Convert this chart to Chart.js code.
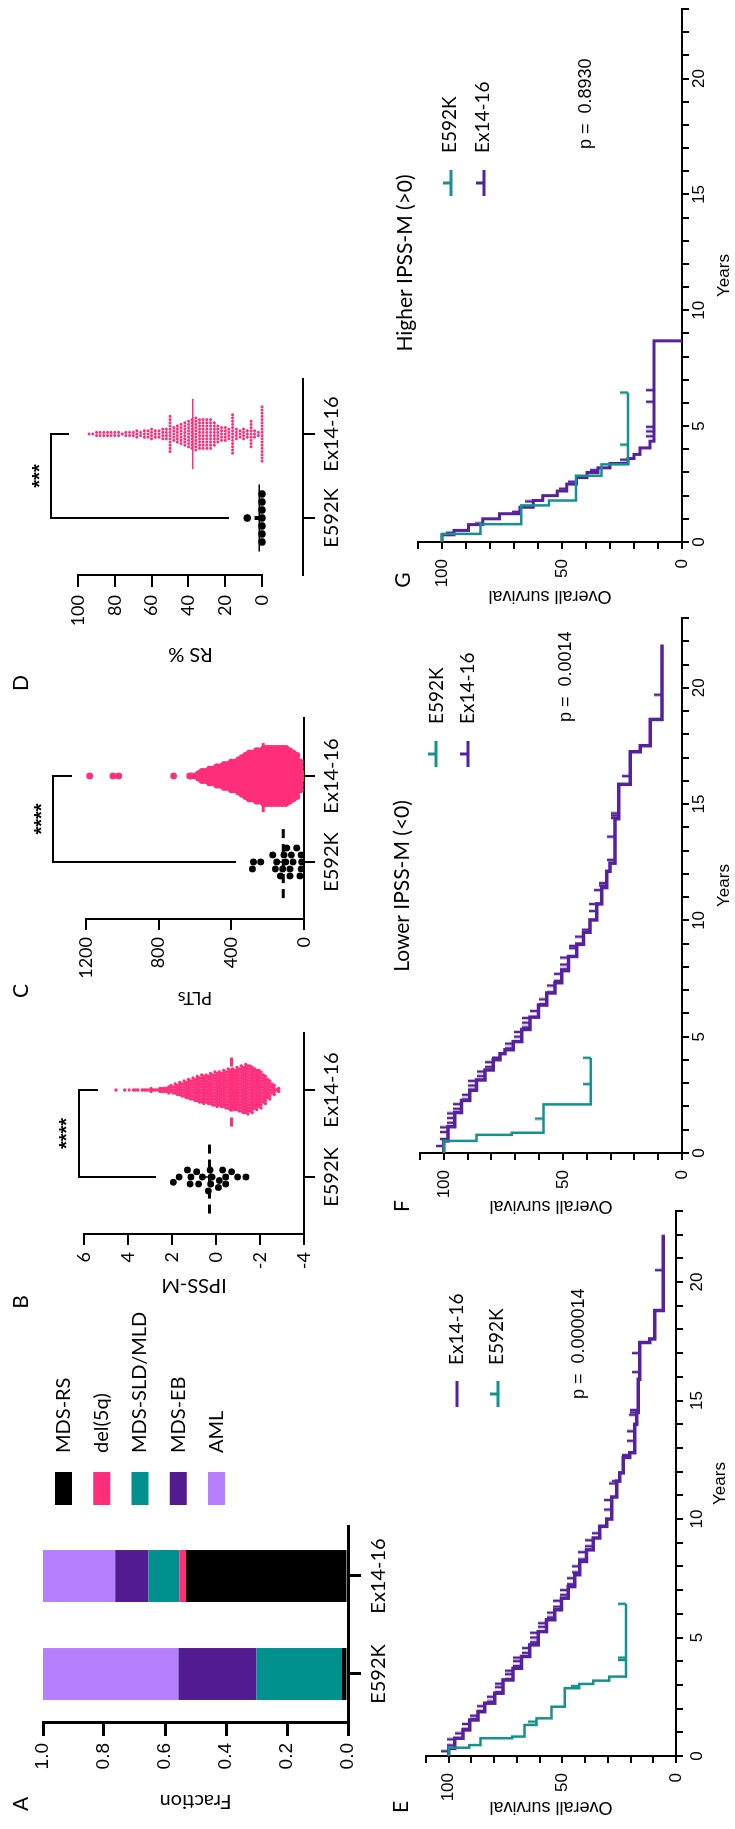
<!DOCTYPE html>
<html>
<head>
<meta charset="utf-8">
<title>E592K vs Ex14-16</title>
<script src="https://cdn.jsdelivr.net/npm/chart.js@4.4.1/dist/chart.umd.min.js"></script>
<style>
  html, body { margin: 0; padding: 0; background: #fff; overflow: hidden; width: 735px; height: 1829px; }
  /* the figure is laid out landscape and turned a quarter left */
  #fig { position: absolute; left: 0; top: 0; width: 1829px; height: 735px; background: #fff;
         transform-origin: 0 0; transform: translate(0, 1829px) rotate(-90deg); }
  #fig canvas { position: absolute; }
</style>
</head>
<body>
<div id="fig">
  <canvas id="panelA" width="560" height="410" style="left:0;top:0"></canvas>
  <canvas id="panelB" width="300" height="400" style="left:520px;top:0"></canvas>
  <canvas id="panelC" width="310" height="400" style="left:820px;top:0"></canvas>
  <canvas id="panelD" width="350" height="400" style="left:1130px;top:0"></canvas>
  <canvas id="panelE" width="640" height="355" style="left:0;top:380px"></canvas>
  <canvas id="panelF" width="630" height="355" style="left:600px;top:380px"></canvas>
  <canvas id="panelG" width="619" height="355" style="left:1210px;top:380px"></canvas>
</div>
<script>
// ---------- data ----------
const groups = ['E592K', 'Ex14-16'];

// A: subtype fractions, bottom of bar first
const subtypes = ['MDS-RS', 'del(5q)', 'MDS-SLD/MLD', 'MDS-EB', 'AML'];
const fracE592K = [0.02, 0.0, 0.28, 0.256, 0.444];
const fracEx1416 = [0.531, 0.022, 0.101, 0.109, 0.237];
const fractionTicks = [0, 0.2, 0.4, 0.6, 0.8, 1.0];

// B: IPSS-M score
const ipssE592K = [1.94, 1.68, 1.30, 1.18, 1.14, 0.88, 0.79, 0.62, 0.35, 0.27, 0.24, 0.18, -0.11, -0.15, -0.30, -0.44, -0.44, -0.71, -0.98, -1.36];
const ipssBins = [-2.8, -2.6, -2.4, -2.2, -2.0, -1.8, -1.6, -1.4, -1.2, -1.0, -0.8, -0.6, -0.4, -0.2, 0, 0.2, 0.4, 0.6, 0.8, 1.0, 1.2, 1.4, 1.6, 1.8, 2.0, 2.2, 2.4, 2.6, 2.8, 3.0, 3.2, 3.4, 3.6, 3.8, 4.0, 4.2, 4.4, 4.6];
const ipssCounts = [3, 8, 14, 20, 26, 28, 32, 34, 32, 30, 28, 28, 26, 24, 24, 22, 20, 20, 18, 16, 14, 12, 10, 8, 6, 5, 4, 3, 2, 3, 2, 1, 2, 1, 1, 1, 0, 1];
const ipssMedians = [0.30, -0.71];
const ipssTicks = [-4, -2, 0, 2, 4, 6];

// C: platelets
const pltE592K = [284, 278, 238, 172, 158, 150, 130, 117, 110, 100, 95, 77, 77, 70, 60, 40, 22, 16, 16, 13];
const pltBins = [0, 20, 40, 60, 80, 100, 120, 140, 160, 180, 200, 220, 240, 260, 280, 300, 320, 340, 360, 380, 400, 420, 440, 460, 480, 500, 520, 540, 560, 580, 600, 620];
const pltCounts = [2, 7, 10, 11, 12, 13, 13, 13, 13, 13, 13, 13, 12, 12, 11, 11, 10, 9, 8, 7, 7, 6, 6, 5, 5, 4, 4, 3, 3, 2, 1, 1];
const pltOutliers = [630, 718, 1020, 1052, 1180];
const pltMedians = [114, 224];
const pltTicks = [0, 400, 800, 1200];

// D: ring sideroblasts %
const rsE592K = [8, 0, 0, 0, 0, 0, 0, 0];
const rsBins = [0, 2, 4, 6, 8, 10, 12, 14, 16, 18, 20, 22, 24, 26, 28, 30, 32, 34, 36, 38, 40, 42, 44, 46, 48, 50, 52, 54, 56, 58, 60, 62, 64, 66, 68, 70, 72, 74, 76, 78, 80, 82, 84, 86, 88, 90, 92, 94];
const rsCounts = [18, 2, 3, 9, 3, 4, 3, 4, 13, 4, 5, 5, 6, 8, 10, 10, 10, 10, 11, 10, 9, 8, 7, 6, 5, 12, 4, 4, 3, 3, 4, 3, 3, 2, 3, 2, 2, 2, 1, 2, 2, 2, 2, 2, 2, 2, 1, 1];
const rsMedians = [1.5, 37.6];
const rsTicks = [0, 20, 40, 60, 80, 100];

// E: overall survival, all patients
const eExTimes = [0, 0.32, 0.75, 1.10, 1.52, 1.87, 2.23, 2.65, 3.21, 3.70, 4.20, 4.69, 5.25, 5.75, 6.17, 6.66, 7.15, 7.65, 8.21, 8.70, 9.20, 9.69, 10.0, 10.93, 11.6, 11.95, 12.6, 12.8, 14.0, 14.5, 15.9, 17.45, 17.6, 18.8, 22.0];
const eExSurv = [100, 97.4, 93.7, 90.7, 87.1, 84.1, 79.7, 76.1, 71.7, 68.0, 64.3, 60.6, 57.0, 53.3, 50.4, 47.4, 44.5, 42.3, 39.4, 36.4, 33.5, 30.5, 28.3, 26.1, 24.7, 23.2, 20.3, 18.1, 17.3, 16.6, 15.9, 11.5, 9.3, 5.6, 5.6];
const eExCensor = [0.2, 0.45, 0.7, 0.95, 1.15, 1.35, 1.55, 1.7, 1.9, 2.1, 2.3, 2.5, 2.7, 2.9, 3.05, 3.25, 3.45, 3.6, 3.8, 4.0, 4.15, 4.35, 4.55, 4.8, 5.0, 5.2, 5.45, 5.6, 5.85, 6.05, 6.3, 6.55, 6.8, 7.0, 7.25, 7.5, 7.75, 8.0, 8.3, 8.6, 8.85, 9.1, 9.4, 9.7, 10.4, 10.8, 11.5, 11.6, 12.7, 13.3, 13.7, 14.4, 14.5, 14.6, 16.2, 17.0, 20.5];
const eE5Times = [0, 0.35, 0.46, 0.75, 0.82, 1.31, 1.59, 2.08, 2.86, 3.04, 3.18, 3.35, 6.42];
const eE5Surv = [100, 91, 86, 72, 66.7, 61.4, 54.8, 48.9, 42.6, 36.4, 29.4, 22.0, 22.0];
const eE5Censor = [1.45, 2.95, 4.05, 4.15, 6.42];

// F: lower IPSS-M
const fExTimes = [0, 0.52, 1.13, 1.74, 2.26, 2.70, 3.14, 3.57, 4.01, 4.27, 4.44, 4.79, 5.31, 5.84, 6.36, 6.88, 7.32, 7.84, 8.45, 8.97, 9.49, 10.02, 10.71, 11.41, 12.11, 12.46, 14.37, 15.85, 17.25, 17.51, 18.64, 21.86];
const fExSurv = [100, 98.2, 95.4, 92.6, 89.1, 86.3, 82.7, 79.2, 76.4, 74.3, 70.8, 67.3, 63.8, 60.3, 56.8, 53.3, 50.5, 47.7, 44.2, 41.4, 38.6, 35.8, 33.7, 31.6, 30.2, 28.1, 26.6, 21.7, 17.5, 13.3, 8.4, 8.4];
const fExCensor = [0.3, 0.6, 0.9, 1.1, 1.3, 1.5, 1.7, 1.9, 2.1, 2.3, 2.5, 2.7, 2.9, 3.1, 3.3, 3.5, 3.7, 3.9, 4.1, 4.5, 4.7, 5.0, 5.2, 5.4, 5.6, 5.8, 6.1, 6.4, 6.6, 6.9, 7.2, 7.4, 7.7, 7.9, 8.1, 8.4, 8.8, 8.9, 9.0, 9.3, 9.6, 10.4, 10.7, 11.3, 11.5, 11.6, 12.6, 13.6, 14.4, 14.5, 14.6, 16.2, 19.7];
const fE5Times = [0, 0.52, 0.78, 0.87, 2.09, 4.09];
const fE5Surv = [100, 86.3, 71.5, 58.2, 38.3, 38.3];
const fE5Censor = [1.48, 2.96, 4.09];

// G: higher IPSS-M
const gExTimes = [0, 0.31, 0.5, 0.75, 1.0, 1.22, 1.5, 1.79, 2.0, 2.2, 2.5, 2.78, 3.0, 3.2, 3.39, 3.6, 3.78, 4.06, 4.35, 8.68];
const gExSurv = [100, 95, 89, 83, 76, 67.5, 62, 58, 52, 48, 44, 39.6, 35, 30, 22.5, 20, 17.5, 13.3, 11.7, 0];
const gExCensor = [0.4, 0.8, 1.3, 1.75, 2.3, 2.6, 3.1, 3.55, 4.56, 4.77, 4.97, 6.05, 6.55];
const gE5Times = [0, 0.35, 0.77, 1.58, 1.79, 2.86, 3.35, 6.45];
const gE5Surv = [100, 84, 67, 55.4, 44.2, 33.5, 22.5, 22.5];
const gE5Censor = [4.2, 6.45];

// ---------- colours ----------
const subtypeColors = ['#000000', '#ff2e7b', '#00908e', '#521b91', '#b57ffd'];
const PINK = '#ff2e7b';
const KM_PURPLE = '#55219c';
const KM_TEAL = '#16918e';

Chart.defaults.font.family = 'Lato';
Chart.defaults.color = '#000';
Chart.defaults.animation = false;
Chart.defaults.plugins.legend.display = false;
Chart.defaults.plugins.tooltip.enabled = false;

// ---------- plugins ----------
const notes = {
  id: 'notes',
  afterDraw(chart, args, opts) {
    const ctx = chart.ctx;
    ctx.save();
    (opts.keys || []).forEach(k => {
      ctx.strokeStyle = k.color;
      ctx.lineWidth = 3;
      ctx.beginPath();
      ctx.moveTo(k.x - 13, k.y);
      ctx.lineTo(k.x + 13, k.y);
      if (k.tick) { ctx.moveTo(k.x, k.y); ctx.lineTo(k.x, k.y - 8); }
      ctx.stroke();
    });
    (opts.items || []).forEach(it => {
      ctx.font = it.font || '20px Lato';
      ctx.fillStyle = '#000';
      ctx.textAlign = it.align || 'center';
      ctx.textBaseline = 'middle';
      ctx.fillText(it.text, it.x, it.y);
    });
    ctx.restore();
  }
};

// significance bracket, in data units
const bracket = {
  id: 'bracket',
  afterDraw(chart, args, b) {
    if (!b || b.top === undefined) return;
    const sx = chart.scales.x, sy = chart.scales.y, ctx = chart.ctx;
    const x1 = sx.getPixelForValue(0), x2 = sx.getPixelForValue(1);
    const yt = sy.getPixelForValue(b.top);
    ctx.save();
    ctx.strokeStyle = '#000';
    ctx.lineWidth = 2;
    ctx.beginPath();
    ctx.moveTo(x1, sy.getPixelForValue(b.leftEnd));
    ctx.lineTo(x1, yt);
    ctx.lineTo(x2, yt);
    ctx.lineTo(x2, sy.getPixelForValue(b.rightEnd));
    ctx.stroke();
    ctx.font = 'bold 20px "Liberation Sans"';
    ctx.fillStyle = '#000';
    ctx.textAlign = 'center';
    ctx.textBaseline = 'middle';
    ctx.fillText(b.stars, (x1 + x2) / 2, sy.getPixelForValue(b.starsAt) + 4);
    ctx.restore();
  }
};

// value axis line that only runs over part of the range (panel D)
const partialAxis = {
  id: 'partialAxis',
  afterDraw(chart, args, o) {
    if (!o || o.from === undefined) return;
    const sy = chart.scales.y, ctx = chart.ctx, x = chart.chartArea.left;
    ctx.save();
    ctx.strokeStyle = '#000';
    ctx.lineWidth = 2;
    ctx.beginPath();
    ctx.moveTo(x, sy.getPixelForValue(o.from) + 1);
    ctx.lineTo(x, sy.getPixelForValue(o.to) - 1);
    ctx.stroke();
    ctx.restore();
  }
};

const swatchLegend = {
  id: 'swatchLegend',
  afterDraw(chart, args, o) {
    if (!o || o.gap === undefined) return;
    const ctx = chart.ctx, a = chart.chartArea;
    ctx.save();
    chart.data.datasets.forEach((ds, i) => {
      const y = a.top + o.top + i * o.gap;
      const x = a.right + o.left;
      ctx.fillStyle = ds.backgroundColor;
      ctx.fillRect(x, y, o.w, o.h);
      ctx.fillStyle = '#000';
      ctx.font = o.font;
      ctx.textAlign = 'left';
      ctx.textBaseline = 'middle';
      ctx.fillText(ds.label, x + o.w + o.textGap, y + o.h / 2);
    });
    ctx.restore();
  }
};

Chart.register(notes, bracket, partialAxis, swatchLegend);

// ---------- helpers ----------
// simple beeswarm: each value goes to the nearest free slot beside its group
function swarm(values, center, dx, dy) {
  const placed = [];
  const order = values.map((v, i) => i).sort((a, b) => values[a] - values[b]);
  order.forEach(i => {
    const v = values[i];
    for (let k = 0; k < 400; k++) {
      let offs = k === 0 ? [0] : [k * dx / 4, -k * dx / 4];
      if (placed.length % 2) offs = offs.reverse();
      const ok = offs.find(o => placed.every(p => ((p.x - o) / dx) ** 2 + ((p.y - v) / dy) ** 2 >= 0.999));
      if (ok !== undefined) { placed.push({ x: ok, y: v }); break; }
    }
  });
  return placed.map(p => ({ x: center + p.x, y: p.y }));
}

// binned dots laid out side by side in rows
function rows(bins, counts, center, gap, subRows, band) {
  const pts = [];
  bins.forEach((v, i) => {
    const n = counts[i];
    for (let r = 0; r < subRows; r++) {
      const m = Math.floor(n / subRows) + (r < n % subRows ? 1 : 0);
      const y = subRows > 1 ? v + (r - (subRows - 1) / 2) * band / subRows : v;
      const shift = r % 2 ? gap / 2 : 0;
      for (let j = 0; j < m; j++) pts.push({ x: center + (j - (m - 1) / 2) * gap + (m > 2 ? shift : 0), y });
    }
  });
  return pts;
}

function hline(g, v, half) { return [{ x: g - half, y: v }, { x: g + half, y: v }]; }
function vline(g, lo, hi) { return [{ x: g, y: lo }, { x: g, y: hi }]; }

function lineSet(data, color, width, dash) {
  return { data, showLine: true, borderColor: color, borderWidth: width, borderDash: dash || [], pointRadius: 0, fill: false };
}
function dotSet(data, color, r) {
  return { data, showLine: false, pointRadius: r, pointStyle: 'circle', backgroundColor: color, borderColor: color, borderWidth: 0 };
}

function groupAxis(min, max, tickLen, height) {
  return {
    type: 'linear', min, max,
    afterBuildTicks: s => { s.ticks = groups.map((g, i) => ({ value: i })); },
    ticks: { callback: v => groups[v], font: { size: 20 }, padding: 5, autoSkip: false, maxRotation: 0 },
    grid: { drawOnChartArea: false, tickLength: tickLen, color: '#000', lineWidth: 2 },
    border: { color: '#000', width: 2 },
    afterFit: s => { s.height = height; }
  };
}

function valueAxis(min, max, tickVals, title, opt) {
  return {
    type: 'linear', min, max,
    afterBuildTicks: s => { s.ticks = tickVals.map(v => ({ value: v })); },
    ticks: { font: { size: 18 }, padding: opt.pad, autoSkip: false, callback: v => String(v) },
    grid: { drawOnChartArea: false, tickLength: opt.tick, color: '#000', lineWidth: 2 },
    border: { display: opt.border !== false, color: '#000', width: 2 },
    title: { display: true, text: title, font: { size: opt.titleSize || 20 }, padding: { top: opt.titleTop, bottom: 0 } },
    afterFit: s => { s.width = opt.width; }
  };
}

// ---------- A: stacked fractions ----------
new Chart(document.getElementById('panelA'), {
  type: 'bar',
  data: {
    labels: groups,
    datasets: subtypes.map((s, i) => ({
      label: s,
      data: [fracE592K[i], fracEx1416[i]],
      backgroundColor: subtypeColors[i],
      borderWidth: 0,
      barPercentage: 0.53,
      categoryPercentage: 1
    }))
  },
  options: {
    responsive: false,
    layout: { padding: { top: 43, right: 258, left: 0, bottom: 0 } },
    scales: {
      x: {
        stacked: true,
        grid: { offset: false, drawOnChartArea: false, tickLength: 13, color: '#000', lineWidth: 3 },
        border: { color: '#000', width: 3 },
        ticks: { font: { size: 20 }, padding: 6 },
        afterFit: s => { s.height = 62; }
      },
      y: {
        stacked: true, min: 0, max: 1,
        afterBuildTicks: s => { s.ticks = fractionTicks.map(v => ({ value: v })); },
        grid: { drawOnChartArea: false, tickLength: 13, color: '#000', lineWidth: 3 },
        border: { color: '#000', width: 3 },
        ticks: { callback: v => v.toFixed(1), font: { family: 'Liberation Sans', size: 19 }, padding: 7 },
        title: { display: true, text: 'Fraction', font: { size: 20 }, padding: { top: 16, bottom: 0 } },
        afterFit: s => { s.width = 106; }
      }
    },
    plugins: {
      swatchLegend: { left: 22, top: 12, gap: 38.25, w: 33, h: 17, textGap: 19, font: '20px Lato' },
      notes: { items: [{ text: 'A', x: 25, y: 21, font: '21px Lato' }] }
    }
  }
});

// ---------- B: IPSS-M ----------
{
  const xMin = -0.655, xMax = 1.655, pxX = 201 / (xMax - xMin), pxY = 220 / 10;
  new Chart(document.getElementById('panelB'), {
    type: 'scatter',
    data: {
      datasets: [
        lineSet(hline(0, ipssMedians[0], 0.42), '#000', 3, [9, 6]),
        lineSet(vline(0, 0.05, 0.55), '#000', 1.5),
        lineSet(hline(0, 0.25, 0.12), '#000', 1.5),
        lineSet(hline(1, ipssMedians[1], 0.42), PINK, 3, [9, 6]),
        dotSet(swarm(ipssE592K, 0, 7 / pxX, 7 / pxY), '#000', 3.4),
        dotSet(rows(ipssBins, ipssCounts, 1, 3.0 / pxX, 2, 0.2), PINK, 1.7)
      ]
    },
    options: {
      responsive: false,
      layout: { padding: { top: 84, right: 24, left: 0, bottom: 0 } },
      scales: {
        x: groupAxis(xMin, xMax, 11, 96),
        y: valueAxis(-4, 6, ipssTicks, 'IPSS-M', { pad: 7, tick: 11, titleTop: 12, width: 75 })
      },
      plugins: {
        bracket: { top: 6.23, leftEnd: 2.73, rightEnd: 5.36, stars: '****', starsAt: 6.91 },
        notes: { items: [{ text: 'B', x: 7, y: 21, font: '21px Lato' }] }
      }
    }
  });
}

// ---------- C: PLTs ----------
{
  const xMin = -0.663, xMax = 1.674, pxX = 201 / (xMax - xMin), pxY = 218 / 1200;
  const pinkDots = rows(pltBins, pltCounts, 1, 4.6 / pxX, 1, 20).concat(pltOutliers.map(v => ({ x: 1, y: v })));
  new Chart(document.getElementById('panelC'), {
    type: 'scatter',
    data: {
      datasets: [
        lineSet(hline(0, pltMedians[0], 0.42), '#000', 3, [9, 6]),
        lineSet(vline(0, 90, 140), '#000', 1.5),
        lineSet(hline(1, pltMedians[1], 0.42), PINK, 3, [9, 6]),
        dotSet(swarm(pltE592K, 0, 7 / pxX, 7 / pxY), '#000', 3.4),
        dotSet(pinkDots, PINK, 3.4)
      ]
    },
    options: {
      responsive: false,
      layout: { padding: { top: 86, right: 19, left: 0, bottom: 0 } },
      scales: {
        x: groupAxis(xMin, xMax, 11, 96),
        y: valueAxis(0, 1200, pltTicks, 'PLTs', { pad: 7, tick: 11, titleTop: 0, width: 90, titleSize: 18 })
      },
      plugins: {
        bracket: { top: 1382, leftEnd: 374, rightEnd: 1277, stars: '****', starsAt: 1459 },
        notes: { items: [{ text: 'C', x: 18, y: 21, font: '21px Lato' }] }
      }
    }
  });
}

// ---------- D: RS % ----------
{
  const xMin = -0.679, xMax = 1.655, pxX = 196 / (xMax - xMin), pxY = 1.84;
  new Chart(document.getElementById('panelD'), {
    type: 'scatter',
    data: {
      datasets: [
        lineSet(hline(0, rsMedians[0], 0.4), '#000', 1.5),
        lineSet(vline(0, 0, 4), '#000', 4),
        lineSet(hline(1, rsMedians[1], 0.42), PINK, 1.5),
        dotSet(swarm(rsE592K, 0, 8 / pxX, 8 / pxY), '#000', 3.8),
        dotSet(rows(rsBins, rsCounts, 1, 3.2 / pxX, 1, 2), PINK, 1.5)
      ]
    },
    options: {
      responsive: false,
      layout: { padding: { top: 78, right: 30, left: 0, bottom: 0 } },
      scales: {
        x: groupAxis(xMin, xMax, 12, 97),
        y: valueAxis(-22.3, 100, rsTicks, 'RS %', { pad: 8, tick: 12, titleTop: 33, width: 124, border: false })
      },
      plugins: {
        partialAxis: { from: 0, to: 100 },
        bracket: { top: 114.7, leftEnd: 17.9, rightEnd: 104.9, stars: '***', starsAt: 122.8 },
        notes: { items: [{ text: 'D', x: 16, y: 21, font: '21px Lato' }] }
      }
    }
  });
}

// ---------- E-G: Kaplan-Meier ----------
function tickImage(color) {
  const c = document.createElement('canvas');
  c.width = 4; c.height = 16;
  const g = c.getContext('2d');
  g.strokeStyle = color; g.lineWidth = 2.5;
  g.beginPath(); g.moveTo(2, 0); g.lineTo(2, 8); g.stroke();
  return c;
}
function survAt(times, surv, t) {
  let s = surv[0];
  times.forEach((tt, i) => { if (tt <= t) s = surv[i]; });
  return s;
}
function kmSets(times, surv, censor, color, width) {
  return [
    { data: times.map((t, i) => ({ x: t, y: surv[i] })), showLine: true, stepped: 'before', borderColor: color, borderWidth: width, pointRadius: 0, fill: false },
    { data: censor.map(t => ({ x: t, y: survAt(times, surv, t) })), showLine: false, pointStyle: tickImage(color), pointRadius: 8 }
  ];
}

function kmChart(id, sets, lay, notesOpt) {
  new Chart(document.getElementById(id), {
    type: 'scatter',
    data: { datasets: sets },
    options: {
      responsive: false,
      layout: { padding: { top: lay.top, right: lay.right, left: 0, bottom: 0 } },
      scales: {
        x: {
          type: 'linear', min: 0, max: 23,
          ticks: { stepSize: 1, autoSkip: false, maxRotation: 0, callback: v => (v % 5 === 0 ? v : ''), font: { family: 'Liberation Sans', size: 17 }, padding: lay.xPad },
          grid: { drawOnChartArea: false, tickLength: 7, color: '#000', lineWidth: 2 },
          border: { color: '#000', width: 2 },
          title: { display: true, text: 'Years', font: { family: 'Liberation Sans', size: 17 }, padding: { top: 0, bottom: lay.yearsPad } },
          afterFit: s => { s.height = lay.xh; }
        },
        y: {
          type: 'linear', min: 0, max: 110,
          ticks: { stepSize: 10, autoSkip: false, callback: v => (v % 50 === 0 ? v : ''), font: { family: 'Liberation Sans', size: 17 }, padding: 10 },
          grid: { drawOnChartArea: false, tickLength: 7, color: '#000', lineWidth: 2 },
          border: { color: '#000', width: 2 },
          title: { display: true, text: 'Overall survival', font: { family: 'Liberation Sans', size: 18 }, padding: { top: lay.titleTop, bottom: 0 } },
          afterFit: s => { s.width = lay.yw; }
        }
      },
      plugins: { notes: notesOpt }
    }
  });
}

const legendFont = '19px Lato';
const pFont = '18px "Liberation Sans"';

kmChart('panelE',
  kmSets(eE5Times, eE5Surv, eE5Censor, KM_TEAL, 2.5).concat(kmSets(eExTimes, eExSurv, eExCensor, KM_PURPLE, 3.5)),
  { top: 46, right: 22, xh: 59, yw: 73, xPad: 4, yearsPad: 4, titleTop: 11 },
  {
    items: [
      { text: 'E', x: 22, y: 21, font: '21px Lato' },
      { text: 'Ex14-16', x: 464, y: 77, align: 'left', font: legendFont },
      { text: 'E592K', x: 464, y: 117, align: 'left', font: legendFont },
      { text: 'p =  0.000014', x: 430, y: 199, align: 'left', font: pFont }
    ],
    keys: [{ x: 435, y: 77, color: KM_PURPLE, tick: false }, { x: 435, y: 118, color: KM_TEAL, tick: true }]
  });

kmChart('panelF',
  kmSets(fE5Times, fE5Surv, fE5Censor, KM_TEAL, 2.5).concat(kmSets(fExTimes, fExSurv, fExCensor, KM_PURPLE, 3.5)),
  { top: 40, right: 19, xh: 53, yw: 76, xPad: 0, yearsPad: 0, titleTop: 12 },
  {
    items: [
      { text: 'F', x: 23, y: 22, font: '21px Lato' },
      { text: 'Lower IPSS-M (<0)', x: 343, y: 22, font: '21px Lato' },
      { text: 'E592K', x: 505, y: 57, align: 'left', font: legendFont },
      { text: 'Ex14-16', x: 505, y: 88, align: 'left', font: legendFont },
      { text: 'p =  0.0014', x: 507, y: 186, align: 'left', font: pFont }
    ],
    keys: [{ x: 475, y: 56, color: KM_TEAL, tick: true }, { x: 475, y: 88, color: KM_PURPLE, tick: true }]
  });

kmChart('panelG',
  kmSets(gE5Times, gE5Surv, gE5Censor, KM_TEAL, 2.5).concat(kmSets(gExTimes, gExSurv, gExCensor, KM_PURPLE, 3)),
  { top: 38, right: 1, xh: 53, yw: 77, xPad: 0, yearsPad: 0, titleTop: 12 },
  {
    items: [
      { text: 'G', x: 39, y: 23, font: '21px Lato' },
      { text: 'Higher IPSS-M (>0)', x: 356, y: 25, font: '21px Lato' },
      { text: 'E592K', x: 466, y: 70, align: 'left', font: legendFont },
      { text: 'Ex14-16', x: 466, y: 103, align: 'left', font: legendFont },
      { text: 'p =  0.8930', x: 470, y: 206, align: 'left', font: pFont }
    ],
    keys: [{ x: 436, y: 71, color: KM_TEAL, tick: true }, { x: 436, y: 104, color: KM_PURPLE, tick: true }]
  });
</script>
</body>
</html>
